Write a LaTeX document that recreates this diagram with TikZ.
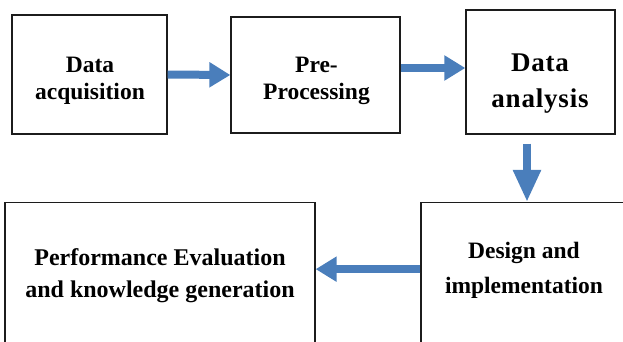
\documentclass[tikz,border=0pt]{standalone}
\usepackage{fontspec}
\setmainfont{Liberation Serif}
\usetikzlibrary{arrows.meta}
\definecolor{flowblue}{HTML}{4A7EBB}
\definecolor{flowink}{HTML}{1C1C1C}

\begin{document}
\begin{tikzpicture}[x=0.5pt,y=-0.5pt,
  box/.style={draw=flowink,line width=0.65pt,inner sep=0pt,fill=white},
  lbl/.style={font=\fontsize{11.75}{13.5}\selectfont\bfseries,align=center,inner sep=0pt},
  flow/.style={draw=flowblue,line width=4pt,-{Triangle[length=10.5pt,width=12pt]}}]

\useasboundingbox (0,0) rectangle (623,342);
\clip (0,0) rectangle (623,342);

\node[box,minimum width=77.5pt,minimum height=59.5pt] (acq) at (89.5,74.5) {};
\node[box,minimum width=84.5pt,minimum height=58pt] (pre) at (315.5,75) {};
\node[box,minimum width=74.5pt,minimum height=62pt] (ana) at (540.5,72) {};
\node[box,minimum width=105pt,minimum height=80pt,anchor=north] (des) at (526,202) {};
\node[box,minimum width=155pt,minimum height=80pt,anchor=north] (perf) at (160,202) {};

\node[lbl] (acqtxt) at (90,81.3) {Data\\acquisition};
\node[lbl] (pretxt) at (316.5,81.3) {Pre-\\Processing};
\node[lbl,font=\fontsize{13.5}{18}\selectfont\bfseries\addfontfeatures{LetterSpace=3}] (anatxt) at (540,83.8) {Data\\analysis};
\node[lbl,font=\fontsize{11.75}{17.5}\selectfont\bfseries] (destxt) at (524,270) {Design and\\implementation};
\node[lbl,font=\fontsize{12}{16}\selectfont\bfseries] (perftxt) at (160,275.5) {Performance Evaluation\\and knowledge generation};

\draw[flow] (acq.east) -- (pre.west);
\draw[flow] ([yshift=3.5pt]pre.east) -- ([yshift=3.5pt]pre.east -| ana.west);
\draw[flow,-{Triangle[length=16pt,width=13pt]}] ([xshift=-6.75pt,yshift=-4.5pt]ana.south) -- ([xshift=-6.75pt]ana.south |- des.north);
\draw[flow] ([yshift=6.75pt]des.west) -- ([yshift=6.75pt]des.west -| perf.east);
\end{tikzpicture}
\end{document}
